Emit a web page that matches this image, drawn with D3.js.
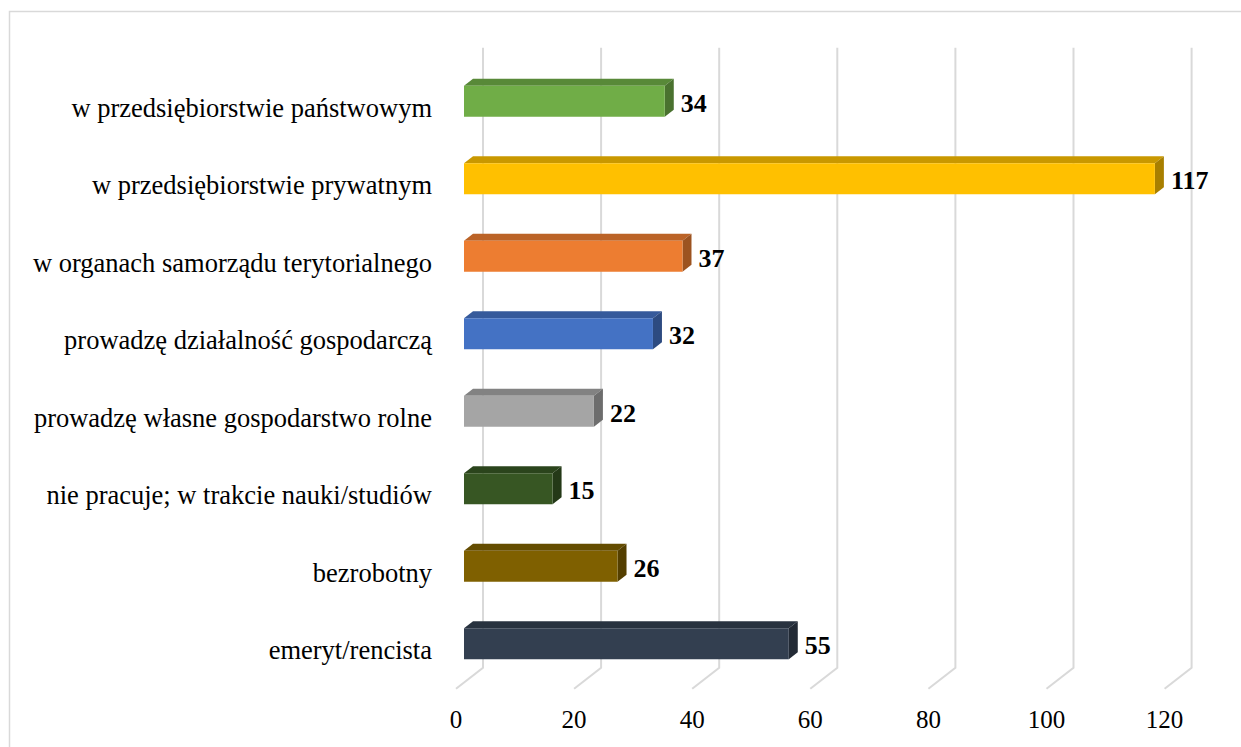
<!DOCTYPE html>
<html>
<head>
<meta charset="utf-8">
<script src="https://cdn.jsdelivr.net/npm/d3@7"></script>
<style>
  html, body { margin: 0; padding: 0; background: #fff; }
  svg { display: block; }
</style>
</head>
<body>
<svg id="chart" width="1241" height="747"></svg>
<script>
const categories = [
  "w przedsiębiorstwie państwowym",
  "w przedsiębiorstwie prywatnym",
  "w organach samorządu terytorialnego",
  "prowadzę działalność gospodarczą",
  "prowadzę własne gospodarstwo rolne",
  "nie pracuje; w trakcie nauki/studiów",
  "bezrobotny",
  "emeryt/rencista"
];
const values = [34, 117, 37, 32, 22, 15, 26, 55];
const colors = ["#70AD47", "#FFC000", "#ED7D31", "#4472C4", "#A5A5A5", "#375623", "#7F6000", "#333F50"];
const tickValues = [0, 20, 40, 60, 80, 100, 120];

const svg = d3.select("#chart");
const font = "'Liberation Serif', 'Times New Roman', serif";

// plot geometry (floor front plane)
const x0 = 456;
const x = d3.scaleLinear().domain([0, 120]).range([0, 708.6]);
const y = d3.scaleBand().domain(categories).range([68.75, 688.75]).paddingInner(0.6).paddingOuter(0.3);
// depth projection: d in [0,1] -> (+27d, -21d)
const DX = 27, DY = 21;
const P = (v, yy, d) => [x0 + x(v) + DX * d, yy - DY * d];

// chart border
svg.append("rect")
  .attr("x", 9.5).attr("y", 11.5)
  .attr("width", 1260).attr("height", 760)
  .attr("fill", "none").attr("stroke", "#d9d9d9").attr("stroke-width", 1.5);

// gridlines: back wall verticals + floor diagonals
const yTopFloor = y.range()[0], yBotFloor = y.range()[1];
const grid = svg.append("g");
tickValues.forEach(t => {
  const bTop = P(t, yTopFloor, 1);
  const bBot = P(t, yBotFloor, 1);
  const fBot = P(t, yBotFloor, 0);
  grid.append("path")
    .attr("d", `M${bTop[0]},${bTop[1]}L${bBot[0]},${bBot[1]}L${fBot[0]},${fBot[1]}`)
    .attr("fill", "none").attr("stroke", "#d9d9d9").attr("stroke-width", 2);
});

// tick labels
svg.append("g").selectAll("text").data(tickValues).join("text")
  .attr("x", d => P(d, yBotFloor, 0)[0])
  .attr("y", 728)
  .attr("text-anchor", "middle")
  .attr("font-family", font).attr("font-size", 25).attr("fill", "#000")
  .text(d => d);

// bars
const dFront = 8 / 27, dBack = 17 / 27;
const bars = svg.append("g");
categories.forEach((c, i) => {
  const v = values[i];
  const col = d3.rgb(colors[i]);
  const top = d3.rgb(col.r * 0.79, col.g * 0.79, col.b * 0.79);
  const side = d3.rgb(col.r * 0.66, col.g * 0.66, col.b * 0.66);
  const yc = y(c) + y.bandwidth() / 2; // floor front center
  const h = y.bandwidth();
  const ft = yc - h / 2, fb = yc + h / 2;
  const A = P(0, ft, dFront), B = P(v, ft, dFront), Cc = P(v, fb, dFront), D = P(0, fb, dFront);
  const A2 = P(0, ft, dBack), B2 = P(v, ft, dBack), C2 = P(v, fb, dBack);
  const poly = pts => "M" + pts.map(p => p.join(",")).join("L") + "Z";
  bars.append("path").attr("d", poly([A, B, B2, A2])).attr("fill", top);
  bars.append("path").attr("d", poly([B, B2, C2, Cc])).attr("fill", side);
  bars.append("path").attr("d", poly([A, B, Cc, D])).attr("fill", col.formatHex());
  // value label
  bars.append("text")
    .attr("x", B2[0] + 7)
    .attr("y", (A[1] + D[1]) / 2 + 2)
    .attr("dominant-baseline", "central")
    .attr("font-family", font).attr("font-size", 26).attr("font-weight", "bold").attr("fill", "#000")
    .text(v);
});

// category labels
svg.append("g").selectAll("text").data(categories).join("text")
  .attr("x", 432)
  .attr("y", d => y(d) + y.bandwidth() / 2)
  .attr("text-anchor", "end")
  .attr("dominant-baseline", "central")
  .attr("font-family", font).attr("font-size", 26.5).attr("fill", "#000")
  .text(d => d);
</script>
</body>
</html>
